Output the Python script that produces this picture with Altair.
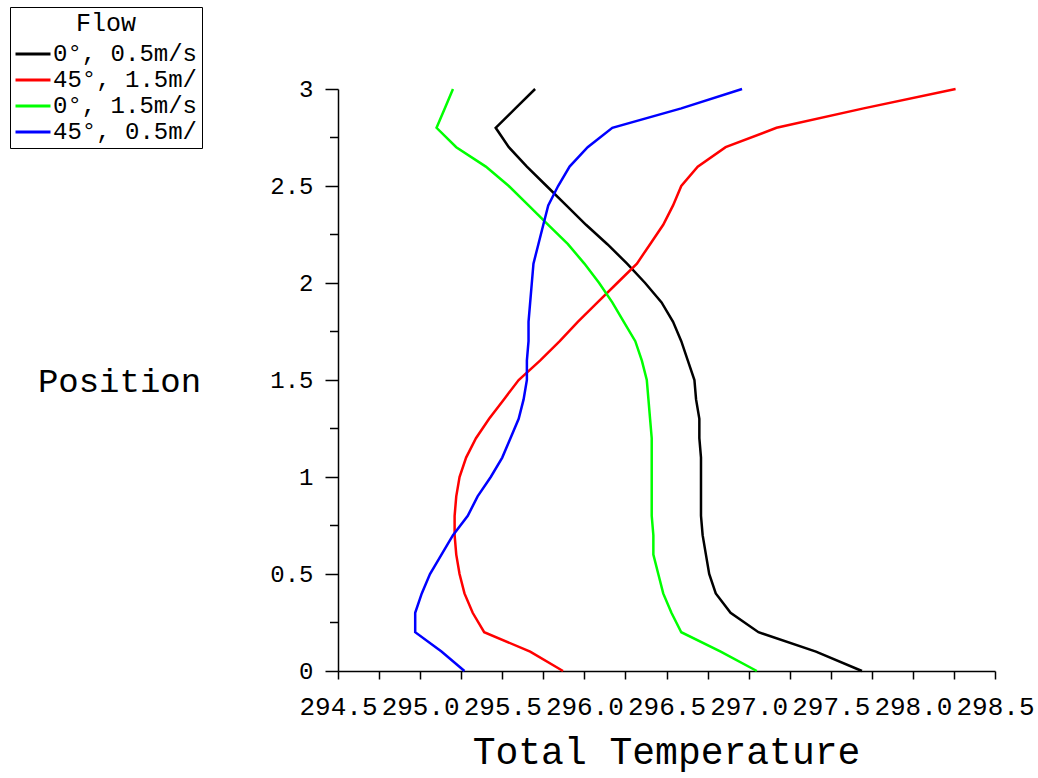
import altair as alt
import pandas as pd

FONT = "Liberation Mono"

# Position (y) sample points
position = [0.0, 0.1, 0.2, 0.3, 0.4, 0.5, 0.6, 0.7, 0.8, 0.9, 1.0,
            1.1, 1.2, 1.3, 1.4, 1.5, 1.6, 1.7, 1.8, 1.9, 2.0,
            2.1, 2.2, 2.3, 2.4, 2.5, 2.6, 2.7, 2.8, 2.9, 3.0]

series_names = ["0°, 0.5m/s", "45°, 1.5m/", "0°, 1.5m/s", "45°, 0.5m/"]
series_colors = ["#000000", "#ff0000", "#00ff00", "#0000ff"]

temp_0_05 = [297.69, 297.41, 297.06, 296.89, 296.80, 296.76, 296.74, 296.72, 296.71, 296.71, 296.71,
             296.71, 296.70, 296.70, 296.68, 296.67, 296.63, 296.59, 296.54, 296.47, 296.37,
             296.26, 296.14, 296.01, 295.89, 295.77, 295.65, 295.54, 295.46, 295.58, 295.70]
temp_45_15 = [295.87, 295.67, 295.39, 295.32, 295.27, 295.24, 295.22, 295.21, 295.21, 295.22, 295.24,
              295.28, 295.34, 295.42, 295.51, 295.60, 295.73, 295.85, 295.96, 296.08, 296.20,
              296.32, 296.40, 296.48, 296.54, 296.59, 296.69, 296.86, 297.17, 297.70, 298.26]
temp_0_15 = [297.05, 296.83, 296.59, 296.53, 296.48, 296.45, 296.42, 296.42, 296.41, 296.41, 296.41,
             296.41, 296.41, 296.40, 296.39, 296.38, 296.35, 296.31, 296.24, 296.17, 296.09,
             296.00, 295.90, 295.78, 295.66, 295.54, 295.40, 295.22, 295.10, 295.15, 295.20]
temp_45_05 = [295.27, 295.13, 294.97, 294.97, 295.01, 295.06, 295.13, 295.20, 295.29, 295.35, 295.43,
              295.50, 295.55, 295.60, 295.63, 295.65, 295.65, 295.66, 295.66, 295.67, 295.68,
              295.69, 295.72, 295.75, 295.78, 295.84, 295.91, 296.02, 296.17, 296.59, 296.96]

x_ticks = [294.5, 294.75, 295.0, 295.25, 295.5, 295.75, 296.0, 296.25, 296.5,
           296.75, 297.0, 297.25, 297.5, 297.75, 298.0, 298.25, 298.5]
y_major = [0, 0.5, 1, 1.5, 2, 2.5, 3]
y_minor = [0.25, 0.75, 1.25, 1.75, 2.25, 2.75]

rows = []
for name, temps in zip(series_names, [temp_0_05, temp_45_15, temp_0_15, temp_45_05]):
    for i, (p, t) in enumerate(zip(position, temps)):
        rows.append({"Flow": name, "Position": p, "Temp": t, "idx": i})
df = pd.DataFrame(rows)

xscale = alt.Scale(domain=[294.5, 298.5], nice=False, zero=False)
yscale = alt.Scale(domain=[0, 3], nice=False, zero=False)

y_axis = alt.Axis(values=y_major, format="~g", tickSize=13, labelPadding=12,
                  labelFont=FONT, labelFontSize=24, labelColor="black",
                  title="Position", titleFont=FONT, titleFontSize=34,
                  titleFontWeight="normal", titleColor="black", titleAngle=0,
                  titleX=-219, titleY=292, titleAlign="center", titleBaseline="middle",
                  grid=False, domainColor="black", tickColor="black",
                  domainWidth=1.5, tickWidth=1.5)

lines = alt.Chart(df).mark_line(strokeWidth=2.5).encode(
    x=alt.X("Temp:Q", scale=xscale,
            axis=alt.Axis(values=x_ticks, tickSize=8, labelPadding=14,
                          labelExpr="(datum.value * 2) % 1 == 0 ? format(datum.value, '.1f') : ''",
                          labelOverlap=False, labelFlush=False,
                          labelFont=FONT, labelFontSize=26, labelColor="black",
                          title="Total Temperature", titleFont=FONT, titleFontSize=38,
                          titleFontWeight="normal", titleColor="black",
                          titleX=328, titleY=81, titleAlign="center", titleBaseline="middle",
                          grid=False, domainColor="black", tickColor="black",
                          domainWidth=1.5, tickWidth=1.5)),
    y=alt.Y("Position:Q", scale=yscale, axis=y_axis),
    color=alt.Color("Flow:N",
                    scale=alt.Scale(domain=series_names, range=series_colors),
                    legend=alt.Legend(title="Flow", orient="none", legendX=-328, legendY=-82,
                                      titleFont=FONT, titleFontSize=25, titleFontWeight="normal",
                                      titleColor="black", titleAnchor="middle", titleAlign="center",
                                      titlePadding=6,
                                      labelFont=FONT, labelFontSize=24, labelColor="black",
                                      labelOffset=8, labelLimit=400,
                                      symbolType="M-2,0L2,0", symbolSize=306,
                                      symbolStrokeWidth=3, symbolOffset=7,
                                      rowPadding=2, padding=4,
                                      strokeColor="black", fillColor="white")),
    order=alt.Order("idx:Q"),
)

minor_df = pd.DataFrame({"Position": y_minor})
minor = alt.Chart(minor_df).mark_rule(color="black", strokeWidth=1.5).encode(
    y=alt.Y("Position:Q", scale=yscale, axis=y_axis),
    x=alt.value(-8),
    x2=alt.value(0),
)

chart = alt.layer(lines, minor).properties(
    width=657, height=582,
    padding={"left": 338, "top": 89, "right": 43, "bottom": 107},
    autosize=alt.AutoSizeParams(type="none"),
    background="white",
).configure_view(stroke=None)

chart.save("out.html", embed_options={"renderer": "svg", "actions": False})
